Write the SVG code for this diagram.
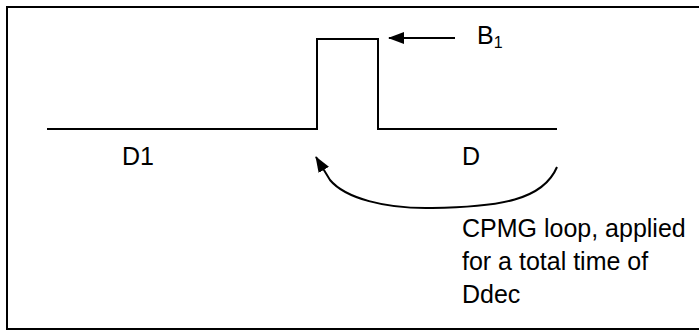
<svg xmlns="http://www.w3.org/2000/svg" width="699" height="332" viewBox="0 0 699 332">
  <style>
    .frame { fill: #ffffff; stroke: #000000; stroke-width: 2; }
    .wire { fill: none; stroke: #000000; stroke-width: 2; }
    .label { font-family: "Liberation Sans", Arial, sans-serif; font-size: 25px; fill: #000000; }
    .sub { font-size: 16px; }
  </style>
  <defs>
    <marker id="head" markerWidth="16" markerHeight="12" refX="15" refY="6" orient="auto" markerUnits="userSpaceOnUse">
      <path d="M0,0 L16,6 L0,12 Z" fill="#000000"/>
    </marker>
  </defs>

  <!-- outer frame, extends past the right edge -->
  <rect class="frame" x="7" y="7" width="760" height="322"/>

  <g id="connectors">
    <!-- arrow pointing at the pulse -->
    <line class="wire" x1="455" y1="38" x2="389" y2="38" marker-end="url(#head)"/>
    <!-- CPMG loop return arrow -->
    <path class="wire" d="M557,167 C543,200 500,207 432,208 C385,209 345,198 330,180 L316,157" marker-end="url(#head)"/>
  </g>

  <g id="sequence">
    <!-- baseline with rectangular B1 pulse -->
    <polyline class="wire" points="47,129 317,129 317,39 378,39 378,129 557,129"/>
  </g>

  <g id="label-b1">
    <text class="label" x="477" y="44">B<tspan class="sub" dy="4">1</tspan></text>
  </g>
  <g id="label-d1">
    <text class="label" x="122" y="165">D1</text>
  </g>
  <g id="label-d">
    <text class="label" x="462" y="165">D</text>
  </g>
  <g id="label-cpmg">
    <text class="label" x="462" y="237">CPMG loop, applied</text>
    <text class="label" x="462" y="270">for a total time of</text>
    <text class="label" x="462" y="303">Ddec</text>
  </g>
</svg>
